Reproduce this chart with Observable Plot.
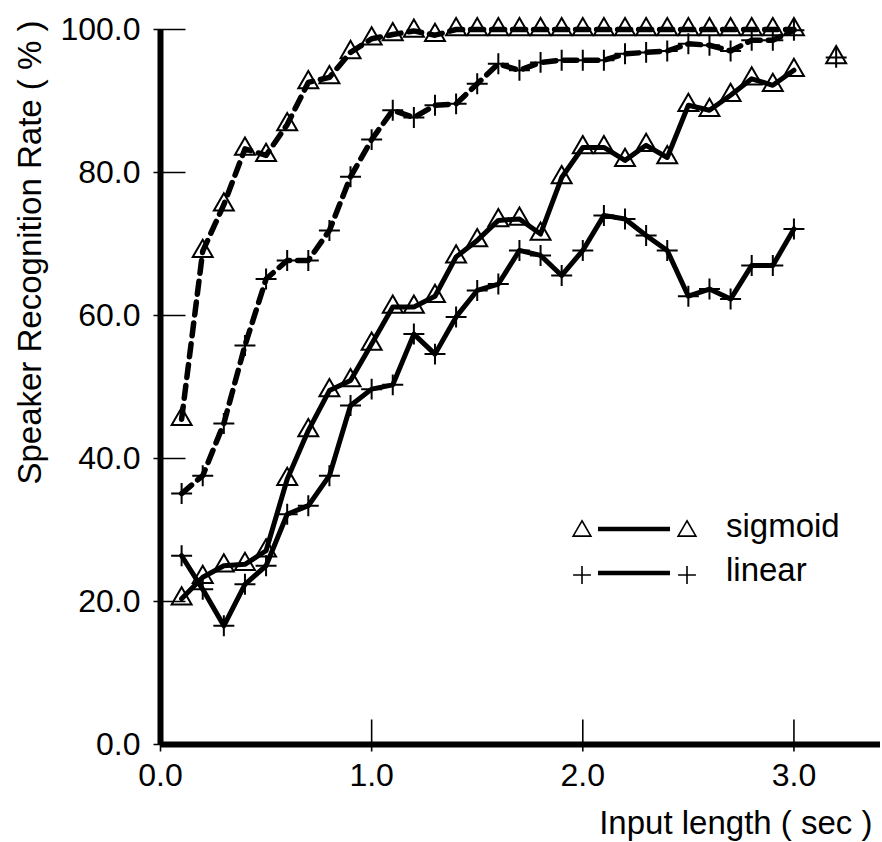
<!DOCTYPE html>
<html>
<head>
<meta charset="utf-8">
<script src="https://cdn.jsdelivr.net/npm/d3@7"></script>
<script src="https://cdn.jsdelivr.net/npm/@observablehq/plot@0.6"></script>
<style>
  html, body { margin: 0; padding: 0; background: #fff; }
  #wrap { position: relative; width: 882px; height: 842px; overflow: hidden; }
  #legend { position: absolute; left: 0; top: 0; pointer-events: none; }
</style>
</head>
<body>
<div id="wrap"></div>
<script>
// ---- data ----
const inputLength = [0.1,0.2,0.3,0.4,0.5,0.6,0.7,0.8,0.9,1.0,1.1,1.2,1.3,1.4,1.5,1.6,1.7,1.8,1.9,2.0,2.1,2.2,2.3,2.4,2.5,2.6,2.7,2.8,2.9,3.0];
const sigmoidDashed = [45.5,69.0,75.5,83.3,82.4,86.7,92.6,93.3,96.8,98.7,99.3,99.8,99.2,100,100,100,100,100,100,100,100,100,100,100,100,100,100,100,100,100];
const linearDashed  = [35.1,37.6,44.9,55.8,65.1,67.7,67.7,71.9,79.4,84.6,88.7,87.7,89.4,89.6,92.4,95.2,94.3,95.4,95.7,95.7,95.7,96.6,96.8,97.0,98.0,97.8,97.0,98.5,98.5,99.9];
const sigmoidSolid  = [20.4,23.4,25.0,25.2,27.1,37.1,43.9,49.5,50.9,56.0,61.2,61.2,62.7,68.2,70.5,73.3,73.5,71.4,79.3,83.5,83.5,81.7,83.8,82.1,89.4,88.7,90.8,93.1,92.2,94.3];
const linearSolid   = [26.4,21.7,16.6,22.4,25.0,32.2,33.4,37.6,47.4,49.7,50.3,57.4,54.6,59.8,63.5,64.4,69.1,68.4,65.6,69.1,74.0,73.5,71.2,69.1,62.7,63.7,62.3,67.0,67.0,72.1];
const strayX = [3.2];
const strayY = [96.1];
const xTicks = [0, 1, 2, 3];
const yTicks = [0, 20, 40, 60, 80, 100];
const xTitle = "Input length ( sec )";
const yTitle = "Speaker Recognition Rate ( % )";
const legendLabels = ["sigmoid", "linear"];

// ---- table ----
const rows = inputLength.map((t, i) => ({
  t, sigDash: sigmoidDashed[i], linDash: linearDashed[i],
  sigSolid: sigmoidSolid[i], linSolid: linearSolid[i]
}));
const stray = strayX.map((t, i) => ({t, v: strayY[i]}));

// custom tick symbols (ticks crossing the axis, longer inward)
const hTick = {draw(ctx) { ctx.moveTo(-7, 0); ctx.lineTo(25, 0); }};
const vTick = {draw(ctx) { ctx.moveTo(0, 7); ctx.lineTo(0, -25); }};

const font = "'Liberation Sans', Arial, Helvetica, sans-serif";
const triR = 7.4, plusR = 6.8;

const chart = Plot.plot({
  width: 882,
  height: 842,
  marginLeft: 160,
  marginRight: 2,
  marginTop: 29,
  marginBottom: 98,
  x: {domain: [0, 3.41]},
  y: {domain: [0, 100]},
  style: {fontFamily: font, fontSize: "32px", background: "white", color: "black"},
  marks: [
    // axis lines
    Plot.ruleX([0], {strokeWidth: 6, stroke: "black"}),
    Plot.ruleY([0], {strokeWidth: 6, stroke: "black"}),
    // ticks
    Plot.dot(yTicks, {x: () => 0, y: d => d, symbol: hTick, stroke: "black", strokeWidth: 1.6, fill: "none"}),
    Plot.dot(xTicks, {x: d => d, y: () => 0, symbol: vTick, stroke: "black", strokeWidth: 1.6, fill: "none"}),
    // tick labels
    Plot.axisY(yTicks, {tickSize: 0, tickPadding: 20, tickFormat: d => d.toFixed(1), label: null, fontSize: 32}),
    Plot.axisX(xTicks, {tickSize: 0, tickPadding: 19, tickFormat: d => d.toFixed(1), label: null, fontSize: 32}),
    // titles
    Plot.text([yTitle], {text: d => d, frameAnchor: "top-left", rotate: -90, textAnchor: "end", lineAnchor: "middle", dx: -130, dy: -9, fontSize: 33}),
    Plot.text([xTitle], {text: d => d, frameAnchor: "bottom-right", textAnchor: "end", lineAnchor: "bottom", dx: -8, dy: 89, fontSize: 33}),
    // dashed series
    Plot.line(rows, {x: "t", y: "sigDash", stroke: "black", strokeWidth: 5.5, strokeDasharray: "13,8"}),
    Plot.line(rows, {x: "t", y: "linDash", stroke: "black", strokeWidth: 5.5, strokeDasharray: "13,8"}),
    // solid series
    Plot.line(rows, {x: "t", y: "sigSolid", stroke: "black", strokeWidth: 5}),
    Plot.line(rows, {x: "t", y: "linSolid", stroke: "black", strokeWidth: 5}),
    // markers
    Plot.dot(rows, {x: "t", y: "sigDash", symbol: "triangle", r: triR, stroke: "black", strokeWidth: 2, fill: "none"}),
    Plot.dot(rows, {x: "t", y: "sigSolid", symbol: "triangle", r: triR, stroke: "black", strokeWidth: 2, fill: "none"}),
    Plot.dot(rows, {x: "t", y: "linDash", symbol: "plus", r: plusR, stroke: "black", strokeWidth: 2}),
    Plot.dot(rows, {x: "t", y: "linSolid", symbol: "plus", r: plusR, stroke: "black", strokeWidth: 2}),
    // stray point
    Plot.dot(stray, {x: "t", y: "v", symbol: "triangle", r: triR, stroke: "black", strokeWidth: 2, fill: "none"}),
    Plot.dot(stray, {x: "t", y: "v", symbol: "plus", r: plusR, stroke: "black", strokeWidth: 2})
  ]
});

const wrap = document.getElementById("wrap");
wrap.appendChild(chart);

// ---- legend overlay ----
const svg = d3.select(wrap).append("svg")
  .attr("id", "legend").attr("width", 882).attr("height", 842);
const triPath = d3.symbol(d3.symbolTriangle, Math.PI * 6.6 * 6.6)();
const plusPath = d3.symbol(d3.symbolPlus, Math.PI * 5.8 * 5.8)();
const rowsY = [531, 575];
const syms = [triPath, plusPath];
legendLabels.forEach((lab, i) => {
  const g = svg.append("g");
  const y = rowsY[i];
  [582, 687].forEach(x => {
    g.append("path").attr("d", syms[i]).attr("transform", `translate(${x},${y})`)
      .attr("fill", "none").attr("stroke", "black").attr("stroke-width", 1.6);
  });
  g.append("line").attr("x1", 598).attr("x2", 670).attr("y1", y - 2).attr("y2", y - 2)
    .attr("stroke", "black").attr("stroke-width", 4.5);
  g.append("text").attr("x", 726).attr("y", y + 6).text(lab)
    .attr("font-family", font).attr("font-size", 33).attr("fill", "black");
});
</script>
</body>
</html>
